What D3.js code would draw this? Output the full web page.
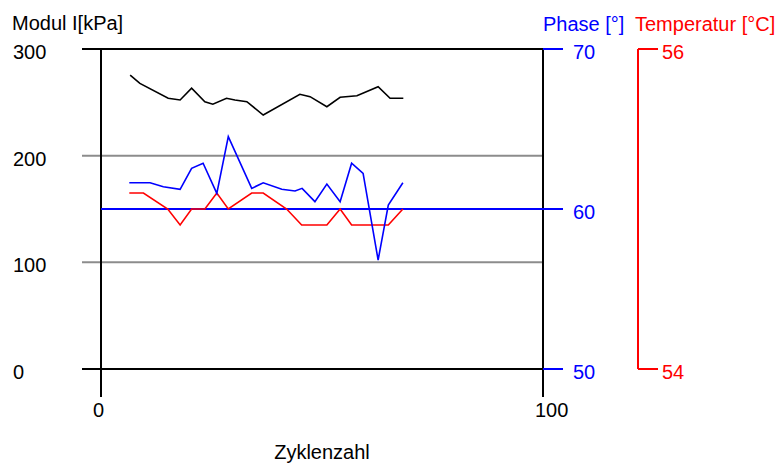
<!DOCTYPE html>
<html lang="de">
<head>
    <meta charset="UTF-8">
    <title>Modul / Phase / Temperatur</title>
    <script src="https://cdn.jsdelivr.net/npm/d3@7"></script>
    <style type="text/css">
        body { margin: 0; background: #fff; }
        text { font-family: "Liberation Sans", Arial, sans-serif; font-size: 20px; }
        .line { fill: none; stroke-width: 1.6; stroke-linejoin: miter; }
    </style>
</head>
<body>
<div id="vis"></div>
<script type="text/javascript">

    // Zyklenzahl / Modul [kPa]
    let modulX = [6.6, 8.8, 15.2, 17.9, 20.5, 23.5, 25.3, 28.4, 30.3, 33.0, 36.7, 45.0, 47.3, 51.1, 54.1, 57.9, 62.7, 65.4, 68.4];
    let modulY = [275.6, 267.8, 253.8, 252.2, 263.2, 250.6, 248.2, 253.8, 252.2, 250.6, 238.1, 257.5, 255.3, 245.9, 254.7, 256.2, 264.7, 253.8, 253.8];

    // Zyklenzahl / Phase [°]
    let phaseX = [6.4, 11.1, 14.1, 17.9, 20.5, 23.1, 26.2, 28.8, 34.1, 36.7, 40.9, 43.9, 45.5, 48.4, 51.1, 54.1, 56.7, 59.3, 62.7, 65.0, 68.3];
    let phaseY = [61.64, 61.64, 61.39, 61.23, 62.54, 62.86, 60.98, 64.52, 61.29, 61.64, 61.23, 61.13, 61.29, 60.46, 61.56, 60.46, 62.86, 62.23, 56.81, 60.25, 61.64];

    // Zyklenzahl / Temperatur [°C]
    let tempX = [6.4, 9.6, 15.1, 17.9, 20.5, 23.5, 26.2, 28.8, 34.1, 36.7, 42.0, 45.4, 51.1, 54.1, 56.7, 65.0, 68.3];
    let tempY = [55.1, 55.1, 55.0, 54.9, 55.0, 55.0, 55.1, 55.0, 55.1, 55.1, 55.0, 54.9, 54.9, 55.0, 54.9, 54.9, 55.0];

    // ticks
    let xTicks = [0, 100];
    let modulTicks = [0, 100, 200, 300];
    let modulGrid = [100, 200];
    let phaseTicks = [50, 60, 70];
    let phaseRef = 60;
    let tempTicks = [54, 56];

    let width = 782, height = 463;
    let svg = d3.select("#vis").append("svg")
        .attr("width", width)
        .attr("height", height);

    let xScale = d3.scaleLinear().domain([0, 100]).range([101, 543]);
    let yModul = d3.scaleLinear().domain([0, 300]).range([369, 49]);
    let yPhase = d3.scaleLinear().domain([50, 70]).range([369, 49]);
    let yTemp = d3.scaleLinear().domain([54, 56]).range([369, 49]);

    let tickLen = 19;

    // gray grid lines (100, 200)
    svg.selectAll(".grid").data(modulGrid).enter().append("line")
        .attr("class", "grid")
        .attr("x1", xScale(0) - tickLen).attr("x2", xScale(100))
        .attr("y1", d => yModul(d)).attr("y2", d => yModul(d))
        .attr("stroke", "#8c8c8c").attr("stroke-width", 2);

    // top / bottom frame lines (0, 300)
    svg.selectAll(".frame").data([0, 300]).enter().append("line")
        .attr("class", "frame")
        .attr("x1", xScale(0) - tickLen).attr("x2", xScale(100))
        .attr("y1", d => yModul(d)).attr("y2", d => yModul(d))
        .attr("stroke", "#000").attr("stroke-width", 2);

    // vertical lines at x ticks, extending below as ticks
    svg.selectAll(".xline").data(xTicks).enter().append("line")
        .attr("class", "xline")
        .attr("x1", d => xScale(d)).attr("x2", d => xScale(d))
        .attr("y1", yModul(300)).attr("y2", yModul(0) + 28)
        .attr("stroke", "#000").attr("stroke-width", 2);

    // x labels
    svg.selectAll(".xlab").data(xTicks).enter().append("text")
        .attr("class", "xlab")
        .attr("x", d => xScale(d) - 8)
        .attr("y", 417)
        .text(d => d);

    svg.append("text")
        .attr("x", (xScale(0) + xScale(100)) / 2)
        .attr("y", 459)
        .attr("text-anchor", "middle")
        .text("Zyklenzahl");

    // left labels
    svg.selectAll(".ylab").data(modulTicks).enter().append("text")
        .attr("class", "ylab")
        .attr("x", 13)
        .attr("y", d => yModul(d) + 10)
        .text(d => d);

    svg.append("text").attr("x", 12).attr("y", 30).text("Modul I[kPa]");

    // phase axis (blue)
    svg.selectAll(".ptick").data(phaseTicks).enter().append("line")
        .attr("class", "ptick")
        .attr("x1", d => d === phaseRef ? xScale(0) : xScale(100))
        .attr("x2", xScale(100) + 20)
        .attr("y1", d => yPhase(d)).attr("y2", d => yPhase(d))
        .attr("stroke", "#0000ff").attr("stroke-width", 2);

    svg.selectAll(".plab").data(phaseTicks).enter().append("text")
        .attr("class", "plab")
        .attr("x", 573)
        .attr("y", d => yPhase(d) + 10)
        .attr("fill", "#0000ff")
        .text(d => d);

    svg.append("text").attr("x", 543).attr("y", 31).attr("fill", "#0000ff").text("Phase [°]");

    // temperature axis (red)
    let tempAxisX = 638;
    svg.append("line")
        .attr("x1", tempAxisX).attr("x2", tempAxisX)
        .attr("y1", yTemp(56)).attr("y2", yTemp(54))
        .attr("stroke", "#ff0000").attr("stroke-width", 2);

    svg.selectAll(".ttick").data(tempTicks).enter().append("line")
        .attr("class", "ttick")
        .attr("x1", tempAxisX).attr("x2", tempAxisX + 20)
        .attr("y1", d => yTemp(d)).attr("y2", d => yTemp(d))
        .attr("stroke", "#ff0000").attr("stroke-width", 2);

    svg.selectAll(".tlab").data(tempTicks).enter().append("text")
        .attr("class", "tlab")
        .attr("x", 662)
        .attr("y", d => yTemp(d) + 10)
        .attr("fill", "#ff0000")
        .text(d => d);

    svg.append("text").attr("x", 635).attr("y", 31).attr("fill", "#ff0000").text("Temperatur [°C]");

    // data lines
    let modulLine = d3.line().x(d => xScale(d[0])).y(d => yModul(d[1]));
    let phaseLine = d3.line().x(d => xScale(d[0])).y(d => yPhase(d[1]));
    let tempLine = d3.line().x(d => xScale(d[0])).y(d => yTemp(d[1]));

    svg.append("path")
        .datum(d3.zip(tempX, tempY))
        .attr("class", "line")
        .attr("stroke", "#ff0000")
        .attr("d", tempLine);

    svg.append("path")
        .datum(d3.zip(phaseX, phaseY))
        .attr("class", "line")
        .attr("stroke", "#0000ff")
        .attr("d", phaseLine);

    svg.append("path")
        .datum(d3.zip(modulX, modulY))
        .attr("class", "line")
        .attr("stroke", "#000")
        .attr("d", modulLine);
</script>
</body>
</html>
